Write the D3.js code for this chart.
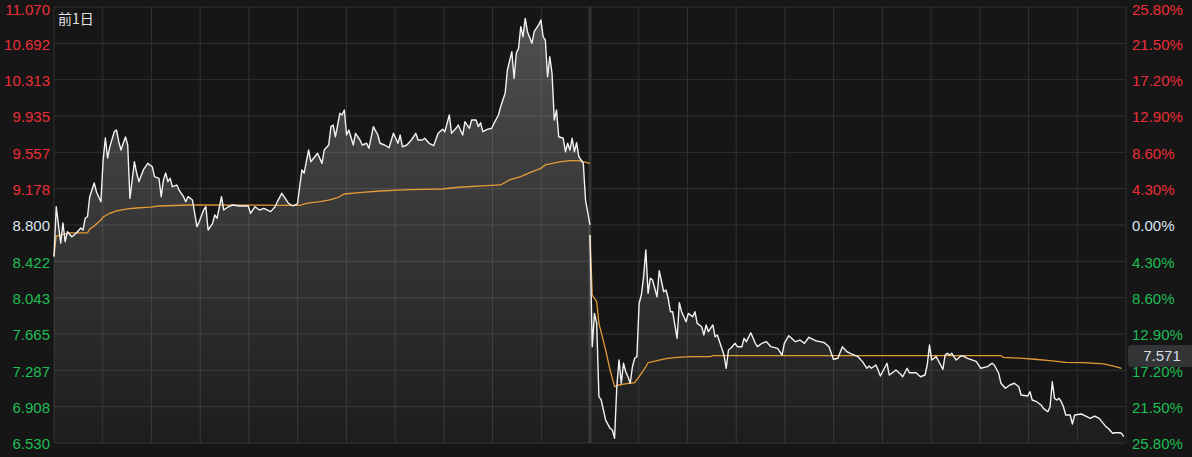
<!DOCTYPE html>
<html><head><meta charset="utf-8">
<script src="https://cdn.jsdelivr.net/npm/d3@7"></script>
<style>html,body{margin:0;padding:0;background:#161616;overflow:hidden}</style>
</head><body><svg id="c" width="1192" height="457"></svg>
<script>
// ---------- data ----------
const prevClose = 8.800;
const priceTicks = ["11.070","10.692","10.313","9.935","9.557","9.178","8.800","8.422","8.043","7.665","7.287","6.908","6.530"];
const pctTicks = ["25.80%","21.50%","17.20%","12.90%","8.60%","4.30%","0.00%","4.30%","8.60%","12.90%","17.20%","21.50%","25.80%"];
const dayLabel = "前1日";
const lastPriceLabel = "7.571";

// day 1 (previous day): [minute, price]
const day1Price = [[0,8.470],[1,8.990],[3,8.612],[4,8.821],[5,8.626],[6,8.730],[8,8.678],[10,8.717],[12,8.769],[13,8.748],[14,8.873],[15,8.886],[16,9.095],[18,9.237],[19,9.147],[21,9.043],[22,9.477],[23,9.706],[24,9.498],[25,9.615],[27,9.772],[28,9.789],[29,9.667],[30,9.581],[31,9.651],[32,9.716],[33,9.633],[34,9.078],[36,9.459],[37,9.341],[38,9.251],[40,9.373],[42,9.442],[44,9.407],[45,9.303],[47,9.286],[48,9.095],[49,9.269],[50,9.341],[51,9.251],[52,9.286],[53,9.199],[55,9.216],[56,9.164],[58,9.095],[59,9.043],[60,9.095],[62,9.060],[63,8.922],[64,8.782],[65,8.834],[67,8.956],[68,8.990],[69,8.748],[71,8.818],[72,8.904],[73,8.870],[75,9.095],[76,8.956],[78,8.990],[80,9.008],[83,8.998],[87,8.998],[88,8.922],[90,8.990],[92,8.956],[94,8.974],[97,8.939],[99,8.990],[100,9.043],[102,9.130],[103,9.095],[105,9.026],[107,8.998],[109,9.019],[111,9.373],[112,9.341],[114,9.581],[115,9.459],[118,9.547],[120,9.442],[121,9.581],[123,9.633],[124,9.824],[125,9.841],[126,9.719],[128,9.963],[129,9.945],[130,9.997],[131,9.737],[132,9.789],[134,9.633],[135,9.755],[137,9.685],[138,9.633],[140,9.651],[141,9.599],[143,9.824],[145,9.737],[146,9.651],[148,9.633],[150,9.605],[152,9.755],[154,9.651],[155,9.737],[156,9.615],[158,9.633],[160,9.685],[162,9.755],[163,9.685],[165,9.685],[166,9.703],[168,9.651],[170,9.626],[172,9.755],[174,9.796],[175,9.772],[177,9.945],[178,9.755],[180,9.807],[181,9.841],[183,9.737],[184,9.876],[186,9.807],[187,9.893],[189,9.893],[190,9.824],[191,9.865],[192,9.772],[194,9.796],[196,9.807],[197,9.859],[199,9.945],[200,10.032],[202,10.171],[203,10.414],[205,10.605],[206,10.328],[207,10.588],[208,10.640],[209,10.865],[210,10.761],[211,10.952],[212,10.813],[214,10.692],[215,10.813],[217,10.883],[218,10.935],[219,10.761],[220,10.726],[221,10.344],[222,10.552],[223,10.380],[224,9.893],[225,9.997],[226,9.719],[228,9.703],[229,9.563],[230,9.651],[231,9.581],[232,9.703],[233,9.563],[234,9.657],[235,9.511],[236,9.477],[237,9.442],[238,9.060],[240,8.800]];
const day1Avg = [[0,8.477],[1,8.685],[7,8.717],[15,8.717],[16,8.758],[18,8.790],[21,8.852],[22,8.883],[25,8.922],[28,8.946],[33,8.967],[37,8.977],[43,8.987],[47,8.998],[61,9.008],[110,9.005],[113,9.026],[119,9.043],[123,9.060],[127,9.084],[130,9.123],[138,9.140],[146,9.154],[159,9.168],[174,9.175],[181,9.193],[194,9.209],[200,9.217],[204,9.269],[209,9.303],[213,9.345],[218,9.390],[220,9.425],[227,9.459],[231,9.470],[235,9.470],[240,9.442]];

// day 2 (today): [minute, price]
const day2Price = [[0,8.696],[1,7.533],[2,7.880],[3,7.776],[4,7.012],[5,6.978],[6,6.874],[7,6.769],[9,6.683],[10,6.665],[11,6.579],[12,7.116],[13,7.394],[14,7.152],[15,7.360],[16,7.272],[17,7.220],[18,7.152],[19,7.324],[20,7.412],[21,7.429],[22,7.985],[23,8.071],[24,8.262],[25,8.540],[26,8.089],[27,8.245],[28,8.227],[29,8.141],[30,8.053],[31,8.324],[33,8.105],[34,8.123],[35,8.037],[36,7.897],[37,7.897],[39,7.620],[40,7.991],[41,7.897],[43,7.793],[44,7.880],[46,7.845],[47,7.897],[48,7.776],[50,7.741],[51,7.655],[52,7.759],[53,7.689],[55,7.759],[56,7.637],[57,7.655],[59,7.516],[60,7.446],[61,7.308],[62,7.498],[63,7.516],[65,7.568],[66,7.533],[68,7.533],[69,7.620],[70,7.585],[72,7.678],[74,7.568],[75,7.533],[77,7.568],[79,7.585],[81,7.533],[84,7.516],[86,7.446],[87,7.568],[89,7.647],[92,7.585],[94,7.602],[96,7.568],[98,7.631],[101,7.595],[103,7.585],[105,7.574],[107,7.533],[109,7.402],[111,7.412],[113,7.533],[115,7.481],[117,7.457],[120,7.429],[122,7.377],[124,7.308],[125,7.332],[126,7.308],[128,7.342],[129,7.290],[130,7.228],[131,7.272],[133,7.360],[134,7.238],[136,7.272],[137,7.290],[139,7.248],[140,7.220],[142,7.308],[143,7.262],[146,7.262],[148,7.220],[150,7.238],[151,7.342],[152,7.550],[153,7.394],[155,7.429],[157,7.342],[158,7.297],[159,7.446],[160,7.464],[161,7.446],[162,7.464],[164,7.394],[166,7.436],[167,7.436],[169,7.412],[172,7.387],[173,7.377],[175,7.308],[178,7.325],[180,7.360],[181,7.342],[183,7.256],[184,7.152],[186,7.100],[188,7.134],[190,7.152],[192,7.116],[193,7.030],[196,7.019],[197,7.064],[198,6.978],[200,6.960],[202,6.926],[203,6.891],[205,6.856],[206,6.908],[207,7.168],[208,6.995],[209,6.978],[210,6.995],[211,6.960],[212,6.908],[213,6.822],[215,6.822],[216,6.728],[217,6.822],[220,6.832],[222,6.811],[224,6.787],[226,6.811],[228,6.787],[231,6.700],[232,6.683],[234,6.631],[235,6.637],[237,6.637],[238,6.631],[239,6.596]];
const day2Avg = [[0,8.696],[1,8.071],[3,8.001],[4,7.776],[7,7.498],[9,7.290],[11,7.116],[13,7.134],[15,7.144],[20,7.158],[22,7.220],[25,7.324],[26,7.366],[30,7.387],[34,7.408],[39,7.422],[45,7.429],[54,7.429],[55,7.440],[184,7.440],[185,7.422],[194,7.412],[199,7.402],[206,7.387],[213,7.370],[221,7.366],[230,7.353],[234,7.332],[238,7.308]];

// ---------- layout ----------
const W = 1192, H = 457;
const L = 54, R = 1126, T = 7, B = 443;
const minutesPerDay = 240, days = 2, columns = 22;
const svg = d3.select("#c");
svg.append("rect").attr("width", W).attr("height", H).attr("fill", "#161616");

const x = d3.scaleLinear().domain([0, minutesPerDay * days]).range([L, R]);
const yMin = +priceTicks[priceTicks.length - 1], yMax = +priceTicks[0];
const y = d3.scaleLinear().domain([yMin, yMax]).range([B, T]);

const defs = svg.append("defs");
const grad = defs.append("linearGradient").attr("id", "fillG")
  .attr("gradientUnits", "userSpaceOnUse").attr("x1", 0).attr("x2", 0).attr("y1", T).attr("y2", B);
grad.append("stop").attr("offset", "0%").attr("stop-color", "#fff").attr("stop-opacity", 0.25);
grad.append("stop").attr("offset", "55%").attr("stop-color", "#fff").attr("stop-opacity", 0.13);
grad.append("stop").attr("offset", "100%").attr("stop-color", "#fff").attr("stop-opacity", 0.03);

// grid
const gridColor = "#313131";
const g = svg.append("g");
g.selectAll("line.h").data(priceTicks).join("line")
  .attr("x1", L).attr("x2", R).attr("y1", d => y(+d)).attr("y2", d => y(+d))
  .attr("stroke", gridColor).attr("stroke-width", 1);
const vcols = d3.range(0, columns + 1).map(i => i * minutesPerDay * days / columns);
g.selectAll("line.v").data(vcols).join("line")
  .attr("x1", d => x(d)).attr("x2", d => x(d)).attr("y1", T).attr("y2", B)
  .attr("stroke", gridColor).attr("stroke-width", 1);
// day divider
g.append("line").attr("x1", x(minutesPerDay)).attr("x2", x(minutesPerDay)).attr("y1", T).attr("y2", B)
  .attr("stroke", "#333").attr("stroke-width", 3);

// series
const series = [
  { price: day1Price, avg: day1Avg, off: 0 },
  { price: day2Price, avg: day2Avg, off: minutesPerDay }
];
series.forEach(s => {
  const area = d3.area().x(d => x(d[0] + s.off)).y0(B).y1(d => y(d[1]));
  svg.append("path").attr("d", area(s.price)).attr("fill", "url(#fillG)");
});
series.forEach(s => {
  const lineAvg = d3.line().x(d => x(d[0] + s.off)).y(d => y(d[1]));
  svg.append("path").attr("d", lineAvg(s.avg)).attr("fill", "none")
    .attr("stroke", "#e39b38").attr("stroke-width", 1.3);
  const lineP = d3.line().x(d => x(d[0] + s.off)).y(d => y(d[1]));
  svg.append("path").attr("d", lineP(s.price)).attr("fill", "none")
    .attr("stroke", "#f2f2f2").attr("stroke-width", 1.4).attr("stroke-linejoin", "round");
});

// axes labels
const up = "#ea2e38", down = "#1ebd55", flat = "#dbe5f0";
const colorFor = v => Math.abs(v - prevClose) < 1e-6 ? flat : (v > prevClose ? up : down);
const font = "'Liberation Sans', Arial, sans-serif";
svg.selectAll("text.l").data(priceTicks).join("text")
  .attr("x", 50).attr("y", d => Math.max(y(+d), 9) + 1).attr("dy", "0.35em")
  .attr("text-anchor", "end").attr("font-family", font).attr("font-size", 15)
  .attr("fill", d => colorFor(+d)).text(d => d);
svg.selectAll("text.r").data(pctTicks).join("text")
  .attr("x", 1132).attr("y", (d, i) => Math.max(y(+priceTicks[i]), 9) + 1).attr("dy", "0.35em")
  .attr("text-anchor", "start").attr("font-family", font).attr("font-size", 15)
  .attr("fill", (d, i) => colorFor(+priceTicks[i])).text(d => d);

// day label
svg.append("text").attr("x", 58).attr("y", 24).attr("font-family", "'Noto Sans CJK SC', sans-serif")
  .attr("font-size", 14).attr("fill", "#e0e0e0").text(dayLabel);

// price badge
const badgeY = 356;
svg.append("rect").attr("x", 1128).attr("y", badgeY - 11).attr("width", 70).attr("height", 22)
  .attr("rx", 4).attr("fill", "#333436");
svg.append("text").attr("x", 1162).attr("y", badgeY).attr("dy", "0.35em").attr("text-anchor", "middle")
  .attr("font-family", font).attr("font-size", 15).attr("fill", "#d6dde8").text(lastPriceLabel);
</script></body></html>
